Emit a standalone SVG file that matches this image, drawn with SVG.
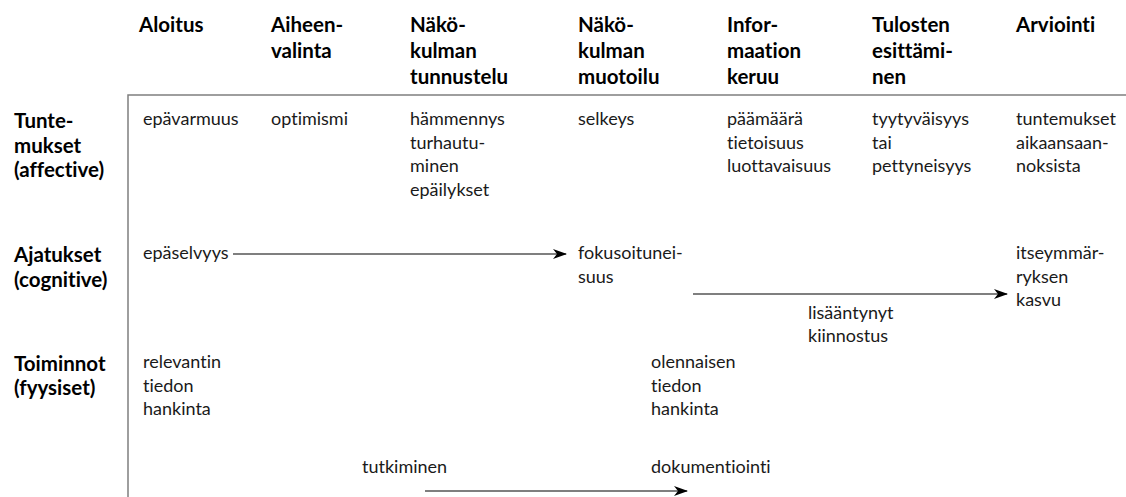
<svg xmlns="http://www.w3.org/2000/svg" width="1126" height="497" viewBox="0 0 1126 497">
<style>
text{font-variant-ligatures:none}
.h{font-family:Lato,"Open Sans","Liberation Sans",sans-serif;font-weight:bold;font-size:20.5px;fill:#000}
.t{font-family:Lato,"Open Sans","Liberation Sans",sans-serif;font-size:18px;fill:#1a1a1a}
.ax{stroke:#7f7f7f;stroke-width:1.5;fill:none}
.ar{stroke:#000;stroke-width:1.2;fill:none;marker-end:url(#ah)}
</style>
<defs>
<marker id="ah" markerWidth="14" markerHeight="10" refX="13" refY="5" orient="auto" markerUnits="userSpaceOnUse">
<path d="M0,0 L14,5 L0,10 L4,5 z" fill="#000"/>
</marker>
</defs>
<rect width="1126" height="497" fill="#fff"/>
<g id="axes">
<path class="ax" d="M128,497 V95 H1126"/>
</g>
<g id="headers">
<text class="h" x="139" y="32">Aloitus</text>
<text class="h" x="271" y="32">Aiheen-<tspan x="271" y="58">valinta</tspan></text>
<text class="h" x="410" y="32">Näkö-<tspan x="410" y="58">kulman</tspan><tspan x="410" y="84">tunnustelu</tspan></text>
<text class="h" x="578" y="32">Näkö-<tspan x="578" y="58">kulman</tspan><tspan x="578" y="84">muotoilu</tspan></text>
<text class="h" x="727" y="32">Infor-<tspan x="727" y="58">maation</tspan><tspan x="727" y="84">keruu</tspan></text>
<text class="h" x="872" y="32">Tulosten<tspan x="872" y="58">esittämi-</tspan><tspan x="872" y="84">nen</tspan></text>
<text class="h" x="1016" y="32">Arviointi</text>
</g>
<g id="rowlabels">
<text class="h" x="14" y="128">Tunte-<tspan x="14" y="153">mukset</tspan><tspan x="14" y="177">(affective)</tspan></text>
<text class="h" x="14" y="262">Ajatukset<tspan x="14" y="287">(cognitive)</tspan></text>
<text class="h" x="14" y="371">Toiminnot<tspan x="14" y="395">(fyysiset)</tspan></text>
</g>
<g id="affective">
<text class="t" x="143" y="125">epävarmuus</text>
<text class="t" x="271" y="125">optimismi</text>
<text class="t" x="410" y="125">hämmennys<tspan x="410" y="149">turhautu-</tspan><tspan x="410" y="172">minen</tspan><tspan x="410" y="196">epäilykset</tspan></text>
<text class="t" x="578" y="125">selkeys</text>
<text class="t" x="727" y="125">päämäärä<tspan x="727" y="149">tietoisuus</tspan><tspan x="727" y="172">luottavaisuus</tspan></text>
<text class="t" x="872" y="125">tyytyväisyys<tspan x="872" y="149">tai</tspan><tspan x="872" y="172">pettyneisyys</tspan></text>
<text class="t" x="1016" y="125">tuntemukset<tspan x="1016" y="149">aikaansaan-</tspan><tspan x="1016" y="172">noksista</tspan></text>
</g>
<g id="cognitive">
<text class="t" x="143" y="259">epäselvyys</text>
<text class="t" x="578" y="259">fokusoitunei-<tspan x="578" y="283">suus</tspan></text>
<text class="t" x="808" y="319">lisääntynyt<tspan x="808" y="342">kiinnostus</tspan></text>
<text class="t" x="1016" y="259">itseymmär-<tspan x="1016" y="283">ryksen</tspan><tspan x="1016" y="306">kasvu</tspan></text>
</g>
<g id="physical">
<text class="t" x="143" y="368">relevantin<tspan x="143" y="392">tiedon</tspan><tspan x="143" y="415">hankinta</tspan></text>
<text class="t" x="651" y="368">olennaisen<tspan x="651" y="392">tiedon</tspan><tspan x="651" y="415">hankinta</tspan></text>
<text class="t" x="362" y="473">tutkiminen</text>
<text class="t" x="651" y="473">dokumentiointi</text>
</g>
<g id="connectors">
<line class="ar" x1="233" y1="254" x2="566" y2="254"/>
<line class="ar" x1="693" y1="294" x2="1007" y2="294"/>
<line class="ar" x1="425" y1="491" x2="687" y2="491"/>
</g>
</svg>
